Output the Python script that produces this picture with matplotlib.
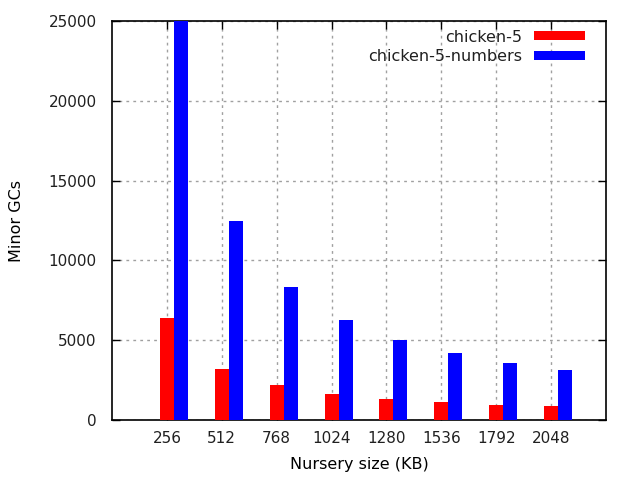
import matplotlib
matplotlib.use('Agg')
import matplotlib.pyplot as plt
import numpy as np

# datos
tamanos = ['256', '512', '768', '1024', '1280', '1536', '1792', '2048']
chicken5 = [6400, 3200, 2200, 1650, 1320, 1120, 950, 880]
chicken5_numbers = [25600, 12480, 8330, 6270, 5020, 4200, 3580, 3140]

plt.rcParams['font.family'] = 'DejaVu Sans'
plt.rcParams['font.size'] = 11.5
plt.rcParams['text.color'] = '#202020'

fig = plt.figure(figsize=(6.4, 4.8), dpi=100)
ax = fig.add_axes([0.175, 0.125, 0.772, 0.831])

x = np.arange(len(tamanos))
ancho = 0.255
ax.bar(x, chicken5, ancho, color='#ff0000', label='chicken-5', zorder=3)
ax.bar(x + ancho, chicken5_numbers, ancho, color='#0000ff', label='chicken-5-numbers', zorder=3)

ax.set_xlim(-1, 8)
ax.set_ylim(0, 25000)
ax.set_xticks(x)
ax.set_xticklabels(tamanos)
ax.set_yticks(range(0, 25001, 5000))

# estilo gnuplot: ticks hacia adentro y en los cuatro lados
ax.tick_params(direction='in', length=6, width=1, top=True, right=True,
               color='black', labelcolor='#202020', labelsize=11)
ax.tick_params(axis='y', pad=11)
ax.tick_params(axis='x', pad=8)
for s in ax.spines.values():
    s.set_linewidth(1.2)

ax.grid(True, linestyle=(0, (2, 3)), color='#a0a0a0', linewidth=1, zorder=0)
ax.set_axisbelow(True)

ax.set_xlabel('Nursery size (KB)', labelpad=8)
ax.set_ylabel('Minor GCs', labelpad=18)

ax.legend(loc='upper right', bbox_to_anchor=(0.97, 0.995), frameon=False, markerfirst=False,
          handlelength=3.2, handleheight=0.5, borderaxespad=0,
          labelspacing=0.3, handletextpad=0.75, fontsize=11.5)

plt.savefig('out.png')
